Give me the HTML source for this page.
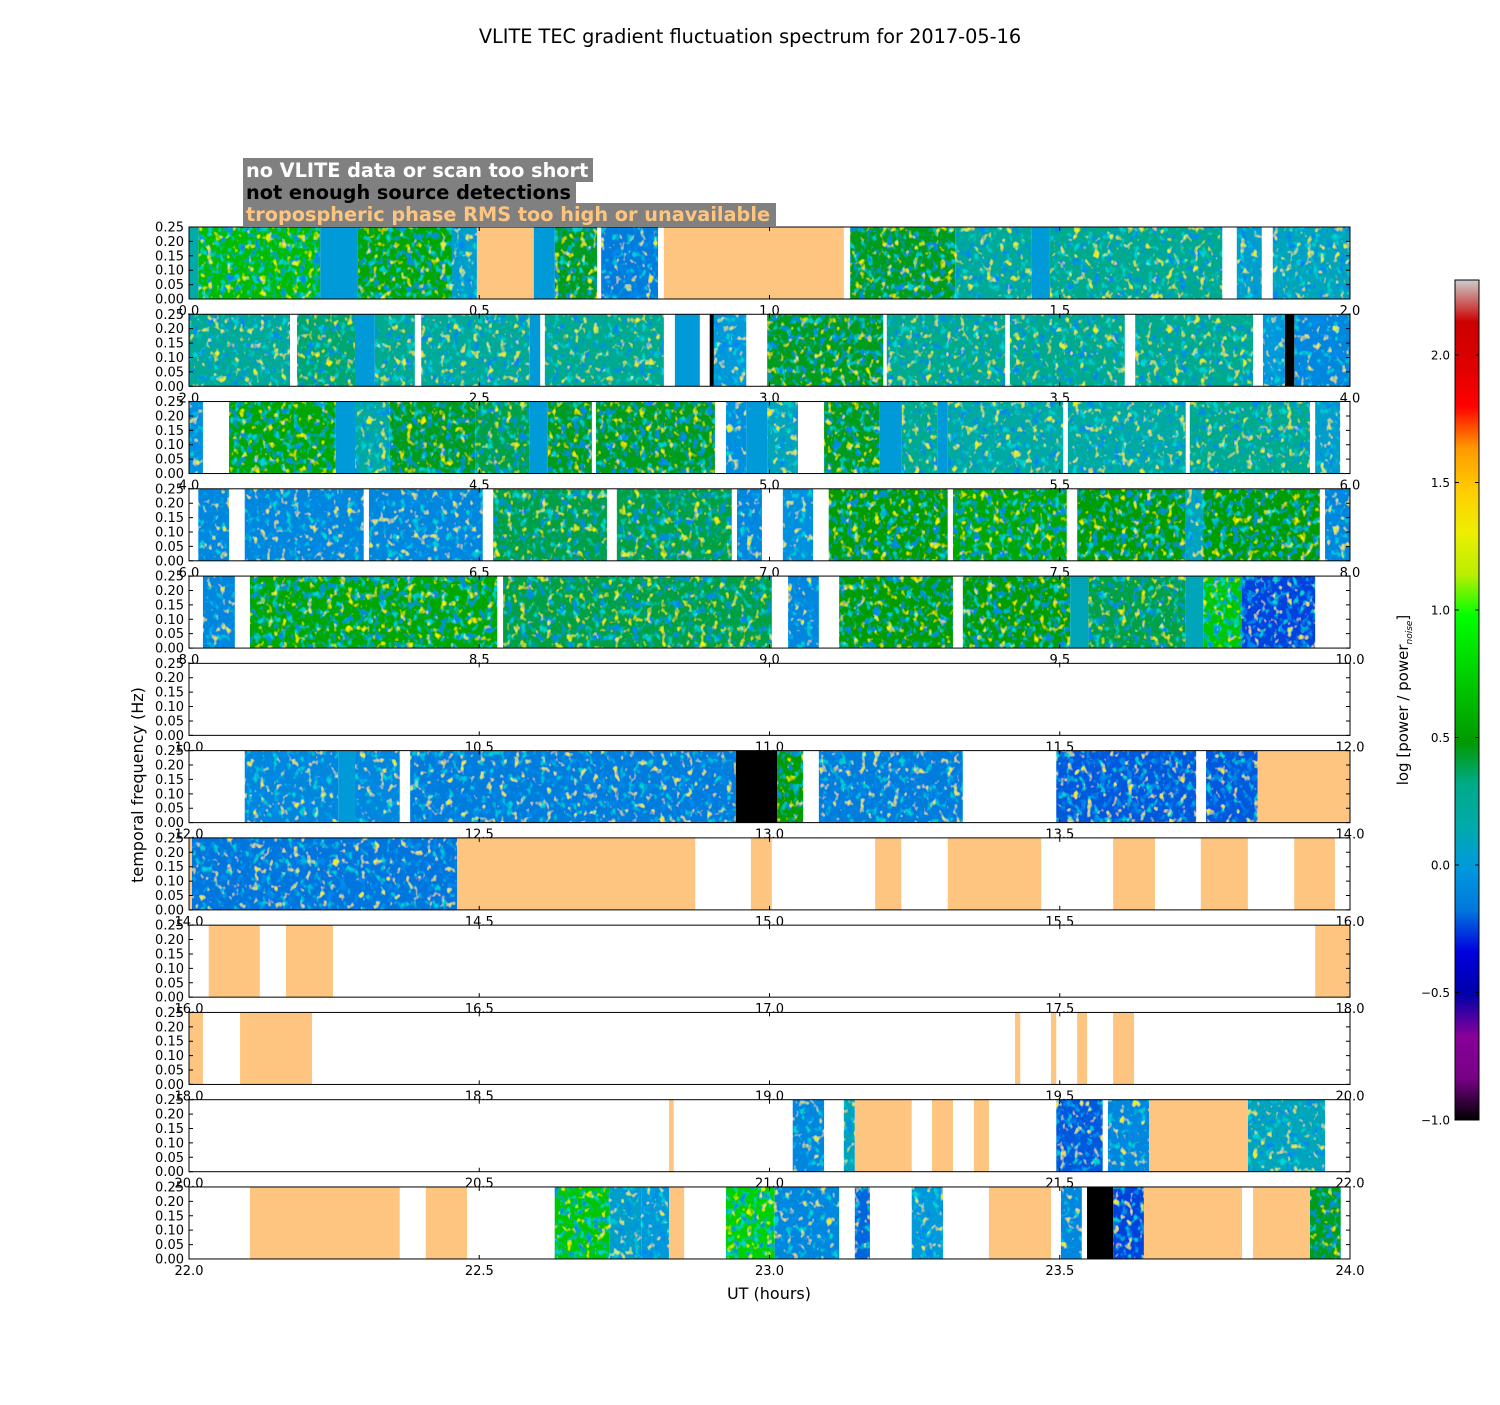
<!DOCTYPE html>
<html><head><meta charset="utf-8"><style>
html,body{margin:0;padding:0;background:#fff;}
svg text{font-family:"DejaVu Sans","Liberation Sans",sans-serif;}
</style></head><body>
<svg id="chart" xmlns="http://www.w3.org/2000/svg" width="1500" height="1400" viewBox="0 0 1500 1400">
<defs>
<filter id="tex" filterUnits="userSpaceOnUse" x="0" y="0" width="1500" height="1400">
<feTurbulence type="fractalNoise" baseFrequency="0.15 0.12" numOctaves="2" seed="7" result="n"/>
<feColorMatrix in="n" type="matrix" values="0 0 0 0 0  0 0 0 0 0.25  0 0 0 0 0.85  5 0 0 0 -2.8" result="nb"/>
<feColorMatrix in="n" type="matrix" values="0 0 0 0 0.85  0 0 0 0 0.9  0 0 0 0 0  0 5 0 0 -3.1" result="ny"/>
<feColorMatrix in="n" type="matrix" values="0 0 0 0 0  0 0 0 0 0.66  0 0 0 0 0.66  0 0 5 0 -2.9" result="nt"/>
<feMerge result="m"><feMergeNode in="nt"/><feMergeNode in="nb"/><feMergeNode in="ny"/></feMerge>
<feComposite in="m" in2="SourceGraphic" operator="atop"/>
</filter>
<linearGradient id="cmap" x1="0" y1="1" x2="0" y2="0">
<stop offset="0" stop-color="#000000"/><stop offset="0.05" stop-color="#780087"/><stop offset="0.10" stop-color="#870099"/>
<stop offset="0.15" stop-color="#0000aa"/><stop offset="0.20" stop-color="#0000dd"/><stop offset="0.25" stop-color="#0077dd"/>
<stop offset="0.30" stop-color="#0099dd"/><stop offset="0.35" stop-color="#00aaaa"/><stop offset="0.40" stop-color="#00aa88"/>
<stop offset="0.45" stop-color="#009900"/><stop offset="0.50" stop-color="#00bb00"/><stop offset="0.55" stop-color="#00dd00"/>
<stop offset="0.60" stop-color="#00ff00"/><stop offset="0.65" stop-color="#bbee00"/><stop offset="0.70" stop-color="#eeee00"/>
<stop offset="0.75" stop-color="#ffcc00"/><stop offset="0.80" stop-color="#ff9900"/><stop offset="0.85" stop-color="#ff0000"/>
<stop offset="0.90" stop-color="#dd0000"/><stop offset="0.95" stop-color="#cc0000"/><stop offset="1" stop-color="#cccccc"/>
</linearGradient>
</defs>
<text x="750" y="43" font-size="19.3" text-anchor="middle">VLITE TEC gradient fluctuation spectrum for 2017-05-16</text>
<g>
<rect x="243" y="158" width="350" height="24" fill="#808080"/>
<rect x="243" y="181" width="333" height="23" fill="#808080"/>
<rect x="243" y="203" width="533" height="23" fill="#808080"/>
<text x="246" y="177" font-size="19.3" font-weight="bold" fill="#ffffff">no VLITE data or scan too short</text>
<text x="246" y="199" font-size="19.3" font-weight="bold" fill="#000000">not enough source detections</text>
<text x="246" y="221" font-size="19.3" font-weight="bold" fill="#fdc57f">tropospheric phase RMS too high or unavailable</text>
</g>
<g id="panels"></g>
<text transform="translate(143,785) rotate(-90)" font-size="16" text-anchor="middle">temporal frequency (Hz)</text>
<text x="769" y="1299" font-size="16" text-anchor="middle">UT (hours)</text>
<g>
<rect x="1455" y="280" width="24" height="840" fill="url(#cmap)" stroke="#000" stroke-width="1"/>
<g id="cbticks"></g>
<text transform="translate(1408,700) rotate(-90)" font-size="15" text-anchor="middle">log [power / power<tspan font-size="9" dy="4" font-style="italic">noise</tspan><tspan dy="-4">]</tspan></text>
</g>
</svg>
<script>
const NS = "http://www.w3.org/2000/svg";
const panelCount = 12;
const hoursPerPanel = 2;
const yTickValues = [0.00, 0.05, 0.10, 0.15, 0.20, 0.25];
const xTickOffsets = [0, 0.5, 1.0, 1.5, 2.0];
const cbTickValues = [-1.0, -0.5, 0.0, 0.5, 1.0, 1.5, 2.0];
const cbMin = -1.0, cbMax = 2.294;
// [startHour, endHour, kind, meanLogPower]; kind: d=data, c=flat data, b=not enough detections, t=tropospheric
const segments = [
[0.000,0.016,'c',0.15],[0.016,0.226,'d',0.65],[0.226,0.291,'c',0],[0.291,0.453,'d',0.55],[0.453,0.496,'d',0.05],
[0.496,0.594,'t'],[0.594,0.630,'c',0],[0.630,0.703,'d',0.45],[0.710,0.808,'d',-0.15],[0.818,1.128,'t'],
[1.139,1.320,'d',0.45],[1.320,1.452,'d',0.25],[1.452,1.483,'c',0],[1.483,1.780,'d',0.3],[1.805,1.848,'d',0.05],[1.867,2.0,'d',0.1],
[2.000,2.174,'d',0.25],[2.186,2.286,'d',0.35],[2.286,2.320,'c',0],[2.320,2.389,'d',0.3],[2.400,2.587,'d',0.25],
[2.587,2.605,'c',0],[2.613,2.818,'d',0.3],[2.837,2.880,'c',0],[2.897,2.904,'b'],[2.904,2.960,'d',0.0],
[2.996,3.196,'d',0.45],[3.202,3.406,'d',0.3],[3.414,3.612,'d',0.3],[3.630,3.833,'d',0.3],[3.850,3.888,'d',0.0],[3.888,3.904,'b'],[3.904,4.0,'d',-0.1],
[4.000,4.024,'d',-0.05],[4.069,4.253,'d',0.55],[4.253,4.286,'c',0],[4.286,4.346,'d',0.2],[4.346,4.494,'d',0.45],
[4.494,4.587,'d',0.4],[4.587,4.618,'c',0],[4.618,4.694,'d',0.45],[4.701,4.906,'d',0.45],[4.925,4.960,'d',-0.05],
[4.960,4.996,'c',0],[4.996,5.049,'d',0.1],[5.094,5.190,'d',0.45],[5.190,5.228,'c',0],[5.228,5.289,'d',0.3],
[5.289,5.307,'c',0],[5.307,5.506,'d',0.2],[5.514,5.717,'d',0.2],[5.724,5.931,'d',0.3],[5.940,5.983,'d',0.05],
[6.016,6.069,'d',-0.1],[6.096,6.301,'d',-0.1],[6.310,6.506,'d',-0.1],[6.524,6.720,'d',0.4],[6.737,6.935,'d',0.4],
[6.944,6.987,'d',-0.1],[7.023,7.075,'d',-0.05],[7.102,7.307,'d',0.5],[7.316,7.512,'d',0.55],[7.530,7.717,'d',0.5],
[7.717,7.747,'d',0.1],[7.747,7.948,'d',0.5],[7.957,8.0,'d',-0.1],
[8.024,8.079,'d',-0.1],[8.105,8.531,'d',0.55],[8.541,9.004,'d',0.4],[9.032,9.085,'d',-0.1],[9.120,9.316,'d',0.5],
[9.333,9.518,'d',0.5],[9.518,9.549,'c',0.1],[9.549,9.717,'d',0.4],[9.717,9.747,'c',0.1],[9.747,9.814,'d',0.7],[9.814,9.940,'d',-0.25],
[12.096,12.257,'d',-0.1],[12.257,12.286,'c',0],[12.286,12.363,'d',-0.1],[12.381,12.942,'d',-0.15],[12.942,13.013,'b'],
[13.013,13.058,'d',0.5],[13.085,13.333,'d',-0.15],[13.494,13.735,'d',-0.22],[13.752,13.841,'d',-0.22],[13.841,14.0,'t'],
[14.000,14.005,'t'],[14.005,14.462,'d',-0.18],[14.462,14.872,'t'],[14.968,15.004,'t'],[15.182,15.227,'t'],
[15.307,15.468,'t'],[15.592,15.664,'t'],[15.743,15.824,'t'],[15.904,15.974,'t'],
[16.034,16.122,'t'],[16.167,16.248,'t'],[17.940,18.0,'t'],
[18.0,18.024,'t'],[18.088,18.212,'t'],[19.423,19.432,'t'],[19.485,19.494,'t'],[19.530,19.547,'t'],[19.592,19.628,'t'],
[20.827,20.835,'t'],[21.040,21.094,'d',-0.1],[21.128,21.147,'d',0.1],[21.147,21.245,'t'],[21.280,21.316,'t'],
[21.352,21.378,'t'],[21.494,21.574,'d',-0.22],[21.583,21.654,'d',-0.1],[21.654,21.824,'t'],[21.824,21.957,'d',0.1],
[22.105,22.363,'t'],[22.408,22.479,'t'],[22.630,22.725,'d',0.7],[22.725,22.780,'d',0.05],[22.780,22.827,'d',0.0],
[22.827,22.853,'t'],[22.925,23.009,'d',0.75],[23.009,23.120,'d',-0.1],[23.147,23.173,'d',-0.2],[23.245,23.299,'d',0.0],
[23.378,23.485,'t'],[23.502,23.538,'d',-0.1],[23.547,23.592,'b'],[23.592,23.645,'d',-0.25],[23.645,23.814,'t'],
[23.833,23.931,'t'],[23.931,23.984,'d',0.45]
];

const cmapStops = [[0,0,0,0],[0.05,120,0,135],[0.10,135,0,153],[0.15,0,0,170],[0.20,0,0,221],[0.25,0,119,221],
[0.30,0,153,221],[0.35,0,170,170],[0.40,0,170,136],[0.45,0,153,0],[0.50,0,187,0],[0.55,0,221,0],[0.60,0,255,0],
[0.65,187,238,0],[0.70,238,238,0],[0.75,255,204,0],[0.80,255,153,0],[0.85,255,0,0],[0.90,221,0,0],[0.95,204,0,0],[1,204,204,204]];
function cmap(v){
  let t=(v-cbMin)/(cbMax-cbMin); t=Math.max(0,Math.min(1,t));
  for(let i=1;i<cmapStops.length;i++){
    const a=cmapStops[i-1],b=cmapStops[i];
    if(t<=b[0]){const f=(t-a[0])/(b[0]-a[0]);
      return 'rgb('+[1,2,3].map(k=>Math.round(a[k]+(b[k]-a[k])*f)).join(',')+')';}
  }
  return 'rgb(204,204,204)';
}
const L=189, R=1350, T0=227, PH=72, STEP=87.27;
function panelTop(p){return T0+p*STEP;}
function xScale(h,p){return L+(h-p*hoursPerPanel)/hoursPerPanel*(R-L);}
function yScale(f,p){return panelTop(p)+PH-f/0.25*PH;}
function mk(tag,attrs,parent){const e=document.createElementNS(NS,tag);for(const k in attrs)e.setAttribute(k,attrs[k]);parent.appendChild(e);return e;}

const root=document.getElementById('panels');
for(let p=0;p<panelCount;p++){
  const g=mk('g',{},root);
  
  
  const bg=mk('rect',{x:L,y:panelTop(p),width:R-L,height:PH,fill:'#fff'},g);
  
  
  const dg=mk('g',{filter:'url(#tex)'},g);
  
  
  const fg=mk('g',{},g);
  
  
  segments.forEach(s=>{
    if(Math.floor(s[0]/hoursPerPanel+1e-9)!==p) return;
    const x0=xScale(s[0],p), x1=xScale(s[1],p);
    let fill, parent=fg, name;
    if(s[2]==='d'){fill=cmap(s[3]);parent=dg;name='spectrogram-scan';}
    else if(s[2]==='c'){fill=cmap(s[3]);name='flat-scan';}
    else if(s[2]==='b'){fill='#000';name='no-detections-segment';}
    else {fill='#fdc57f';name='tropospheric-segment';}
    const r=mk('rect',{x:x0.toFixed(2),y:yScale(0.25,p).toFixed(2),width:(x1-x0).toFixed(2),height:(yScale(0,p)-yScale(0.25,p)).toFixed(2),fill:fill},parent);
    
    
  });
  const fr=mk('rect',{x:L,y:panelTop(p),width:R-L,height:PH,fill:'none',stroke:'#000','stroke-width':1},g);
  
  
  yTickValues.forEach(v=>{
    const y=yScale(v,p);
    const t=mk('text',{x:184,y:(y+4.5).toFixed(1),'font-size':13,'text-anchor':'end'},g);
    t.textContent=v.toFixed(2);
    
    
    const tl=mk('path',{d:`M${L} ${y}h4M${R} ${y}h-4`,stroke:'#000','stroke-width':1},g);
    
    
  });
  xTickOffsets.forEach(o=>{
    const h=p*hoursPerPanel+o, x=xScale(h,p), yb=panelTop(p)+PH;
    const t=mk('text',{x:x.toFixed(1),y:(yb+16).toFixed(1),'font-size':13,'text-anchor':'middle'},g);
    t.textContent=h.toFixed(1);
    
    
    const tl=mk('path',{d:`M${x} ${yb}v-4M${x} ${panelTop(p)}v4`,stroke:'#000','stroke-width':1},g);
    
    
  });
}
const cbg=document.getElementById('cbticks');
cbTickValues.forEach(v=>{
  const y=1120-(v-cbMin)/(cbMax-cbMin)*840;
  const t=mk('text',{x:1450,y:(y+4.5).toFixed(1),'font-size':12,'text-anchor':'end'},cbg);
  t.textContent=v<0?'\u2212'+Math.abs(v).toFixed(1):v.toFixed(1);
  
  
  const tl=mk('path',{d:`M1455 ${y}h4M1479 ${y}h-4`,stroke:'#000','stroke-width':1},cbg);
  
  
});
</script>
</body></html>
